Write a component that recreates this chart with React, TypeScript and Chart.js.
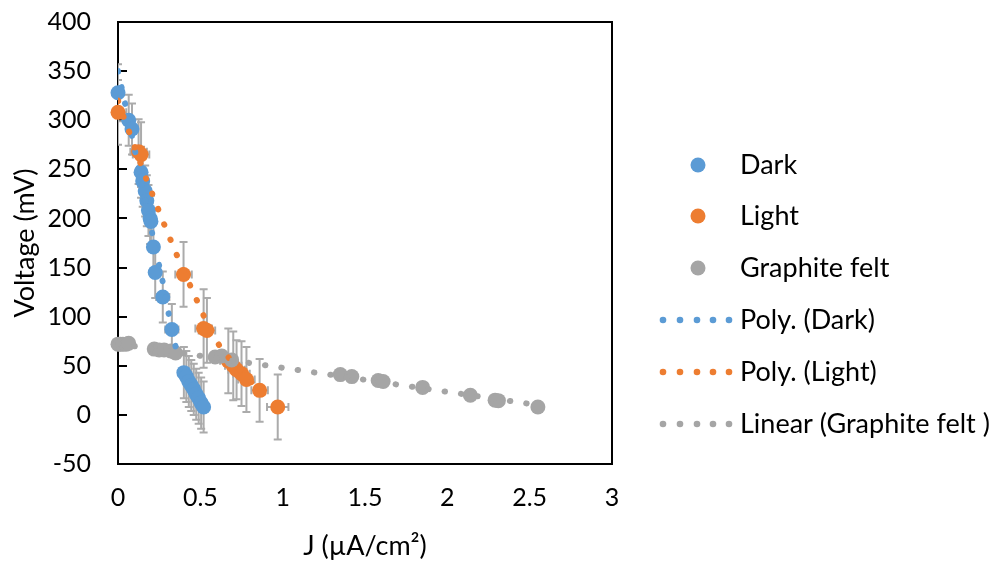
import { useEffect, useRef } from "react";
import { Chart, registerables } from "chart.js";

Chart.register(...registerables);

// ---------- data ----------
const xTicks = [0, 0.5, 1, 1.5, 2, 2.5, 3];
const yTicks = [-50, 0, 50, 100, 150, 200, 250, 300, 350, 400];

const darkJ = [0, 0.065, 0.085, 0.14, 0.15, 0.165, 0.175, 0.185, 0.195, 0.2, 0.215, 0.226, 0.272, 0.327, 0.4, 0.415, 0.43, 0.445, 0.46, 0.475, 0.49, 0.505, 0.52];
const darkV = [328, 300, 291, 247, 238, 228, 218, 208, 200, 197, 171, 145, 120, 87, 43, 39, 34, 30, 26, 21, 17, 12, 8];
const darkVErr = [29, 26, 26, 26, 26, 26, 26, 26, 26, 26, 26, 26, 26, 26, 26, 26, 26, 26, 26, 26, 26, 26, 26];
const darkJErr = [0.03, 0.03, 0.03, 0.03, 0.03, 0.03, 0.03, 0.03, 0.03, 0.03, 0.03, 0.03, 0.04, 0.04, 0.03, 0.03, 0.03, 0.03, 0.03, 0.03, 0.03, 0.03, 0.03];

const lightJ = [0, 0.125, 0.14, 0.398, 0.52, 0.54, 0.67, 0.7, 0.72, 0.75, 0.78, 0.86, 0.97];
const lightV = [308, 268, 265, 143, 88, 86, 55, 50, 46, 42, 36, 25, 8];
const lightVErr = [33, 33, 33, 33, 40, 33, 33, 35, 30, 33, 33, 32, 33];
const lightJErr = [0.05, 0.05, 0.05, 0.05, 0.05, 0.05, 0.05, 0.05, 0.05, 0.05, 0.05, 0.05, 0.065];

const graphiteJ = [0, 0.015, 0.03, 0.05, 0.065, 0.22, 0.25, 0.28, 0.32, 0.35, 0.59, 0.63, 0.69, 1.35, 1.42, 1.58, 1.61, 1.85, 2.14, 2.29, 2.31, 2.55];
const graphiteV = [72, 72, 72, 72, 73, 67, 66, 66, 65, 63, 59, 60, 56, 41, 39, 35, 34, 28, 20, 15, 14.5, 8];

const polyDarkJ = [0, 0.043, 0.205, 0.246, 0.266, 0.303, 0.343, 0.368];
const polyDarkV = [350, 317, 187, 155, 140, 107, 74, 59];

const polyLightJ = [0, 0.043, 0.077, 0.144, 0.181, 0.22, 0.252, 0.29, 0.327, 0.364, 0.443, 0.486, 0.526, 0.571, 0.618, 0.7, 0.8, 0.9, 0.97];
const polyLightV = [320, 299, 284, 253, 236, 220, 206, 190, 175, 160, 130, 114, 99, 85, 70, 53, 35, 19, 9];

const linGraphJ = [0, 2.55];
const linGraphV = [72.4, 10];

const legendLabels = ["Dark", "Light", "Graphite felt", "Poly. (Dark)", "Poly. (Light)", "Linear (Graphite felt )"];

// ---------- styles ----------
const BLUE = "#5B9BD5";
const ORANGE = "#ED7D31";
const GRAY = "#A5A5A5";
const ERR = "#ABABAB";
const FONT = "Lato, 'Open Sans', sans-serif";
const FS = 27;
const TFS = 25;

const pts = (xs: number[], ys: number[]) => xs.map((x, i) => ({ x, y: ys[i] }));

export default function App() {
  const ref = useRef<HTMLCanvasElement>(null);

  useEffect(() => {
    document.body.style.margin = "0";
    const canvas = ref.current;
    if (!canvas) return;

    const errorSeries = [
      { J: darkJ, V: darkV, eV: darkVErr, eJ: darkJErr },
      { J: lightJ, V: lightV, eV: lightVErr, eJ: lightJErr },
    ];

    const errorBars = {
      id: "errorBars",
      beforeDatasetsDraw(chart: any) {
        const { ctx, chartArea } = chart;
        const xs = chart.scales.x;
        const ys = chart.scales.y;
        ctx.save();
        // plot frame and inward y ticks (drawn under the markers)
        ctx.strokeStyle = "#000";
        ctx.lineWidth = 2;
        ctx.strokeRect(chartArea.left, chartArea.top, chartArea.right - chartArea.left, chartArea.bottom - chartArea.top);
        ctx.beginPath();
        yTicks.forEach((v) => {
          const py = Math.round(ys.getPixelForValue(v));
          ctx.moveTo(chartArea.left, py);
          ctx.lineTo(chartArea.left + 9, py);
        });
        ctx.stroke();

        ctx.beginPath();
        ctx.rect(chartArea.left, chartArea.top, chartArea.right - chartArea.left, chartArea.bottom - chartArea.top);
        ctx.clip();
        ctx.strokeStyle = ERR;
        ctx.lineWidth = 2;
        const cap = 4;
        errorSeries.forEach((s) => {
          s.J.forEach((j, i) => {
            const px = xs.getPixelForValue(j);
            const py = ys.getPixelForValue(s.V[i]);
            const t = ys.getPixelForValue(s.V[i] + s.eV[i]);
            const b = ys.getPixelForValue(s.V[i] - s.eV[i]);
            const l = xs.getPixelForValue(j - s.eJ[i]);
            const r = xs.getPixelForValue(j + s.eJ[i]);
            ctx.beginPath();
            ctx.moveTo(px, t); ctx.lineTo(px, b);
            ctx.moveTo(px - cap, t); ctx.lineTo(px + cap, t);
            ctx.moveTo(px - cap, b); ctx.lineTo(px + cap, b);
            ctx.moveTo(l, py); ctx.lineTo(r, py);
            ctx.moveTo(l, py - cap); ctx.lineTo(l, py + cap);
            ctx.moveTo(r, py - cap); ctx.lineTo(r, py + cap);
            ctx.stroke();
          });
        });
        ctx.restore();
      },
    };

    const legendPlugin = {
      id: "customLegend",
      afterDraw(chart: any) {
        const { ctx } = chart;
        ctx.save();
        const rowY = [165, 216, 268, 320, 372, 424];
        const colors = [BLUE, ORANGE, GRAY, BLUE, ORANGE, GRAY];
        ctx.font = `${FS}px ${FONT}`;
        ctx.textBaseline = "middle";
        ctx.textAlign = "left";
        legendLabels.forEach((lab, i) => {
          const y = rowY[i];
          ctx.fillStyle = colors[i];
          if (i < 3) {
            ctx.beginPath();
            ctx.arc(698, y, 7.5, 0, Math.PI * 2);
            ctx.fill();
          } else {
            [663, 680, 697, 713, 729].forEach((dx) => {
              ctx.beginPath();
              ctx.arc(dx, y, 3.3, 0, Math.PI * 2);
              ctx.fill();
            });
          }
          ctx.fillStyle = "#000";
          ctx.fillText(lab, 740, y);
        });
        ctx.restore();
      },
    };

    const trend = (data: any, color: string, order: number, mono: boolean) => ({
      data,
      showLine: true,
      borderColor: color,
      backgroundColor: color,
      borderWidth: 6,
      borderDash: [0.5, 16],
      borderCapStyle: "round",
      pointRadius: 0,
      fill: false,
      cubicInterpolationMode: mono ? "monotone" : "default",
      order,
    });

    const marker = (data: any, color: string, order: number) => ({
      data,
      showLine: false,
      clip: false,
      pointRadius: 7.5,
      pointBackgroundColor: color,
      pointBorderWidth: 0,
      backgroundColor: color,
      borderColor: color,
      order,
    });

    const chart = new Chart(canvas, {
      type: "scatter",
      data: {
        datasets: [
          marker(pts(darkJ, darkV), BLUE, 5),
          marker(pts(lightJ, lightV), ORANGE, 4),
          marker(pts(graphiteJ, graphiteV), GRAY, 3),
          trend(pts(polyDarkJ, polyDarkV), BLUE, 2, true),
          trend(pts(polyLightJ, polyLightV), ORANGE, 1, true),
          trend(pts(linGraphJ, linGraphV), GRAY, 0, false),
        ] as any,
      },
      options: {
        responsive: false,
        animation: false,
        events: [],
        layout: { padding: { left: 0, top: 22, right: 386, bottom: 0 } },
        plugins: { legend: { display: false }, tooltip: { enabled: false } },
        scales: {
          x: {
            type: "linear",
            min: 0,
            max: 3,
            afterFit: (s: any) => { s.height = 99; s.paddingLeft = 0; s.paddingRight = 0; },
            afterBuildTicks: (s: any) => { s.ticks = xTicks.map((v) => ({ value: v })); },
            grid: { display: false, drawTicks: false },
            border: { display: false },
            ticks: { color: "#000", padding: 19, font: { family: FONT, size: TFS }, callback: (v: any) => String(Number(v)) },
            title: { display: true, text: "J (µA/cm²)", color: "#000", font: { family: FONT, size: FS }, padding: { top: 0, bottom: 1 } },
          },
          y: {
            type: "linear",
            min: -50,
            max: 400,
            afterFit: (s: any) => { s.width = 118; s.paddingTop = 0; s.paddingBottom = 0; },
            afterBuildTicks: (s: any) => { s.ticks = yTicks.map((v) => ({ value: v })); },
            grid: { display: false, drawTicks: false },
            border: { display: false },
            ticks: { color: "#000", padding: 27, font: { family: FONT, size: TFS }, callback: (v: any) => String(Number(v)) },
            title: { display: true, text: "Voltage (mV)", color: "#000", font: { family: FONT, size: FS }, padding: { top: 9, bottom: 0 } },
          },
        },
      },
      plugins: [errorBars, legendPlugin],
    });

    return () => chart.destroy();
  }, []);

  return <canvas ref={ref} width={998} height={563} style={{ display: "block" }} />;
}
